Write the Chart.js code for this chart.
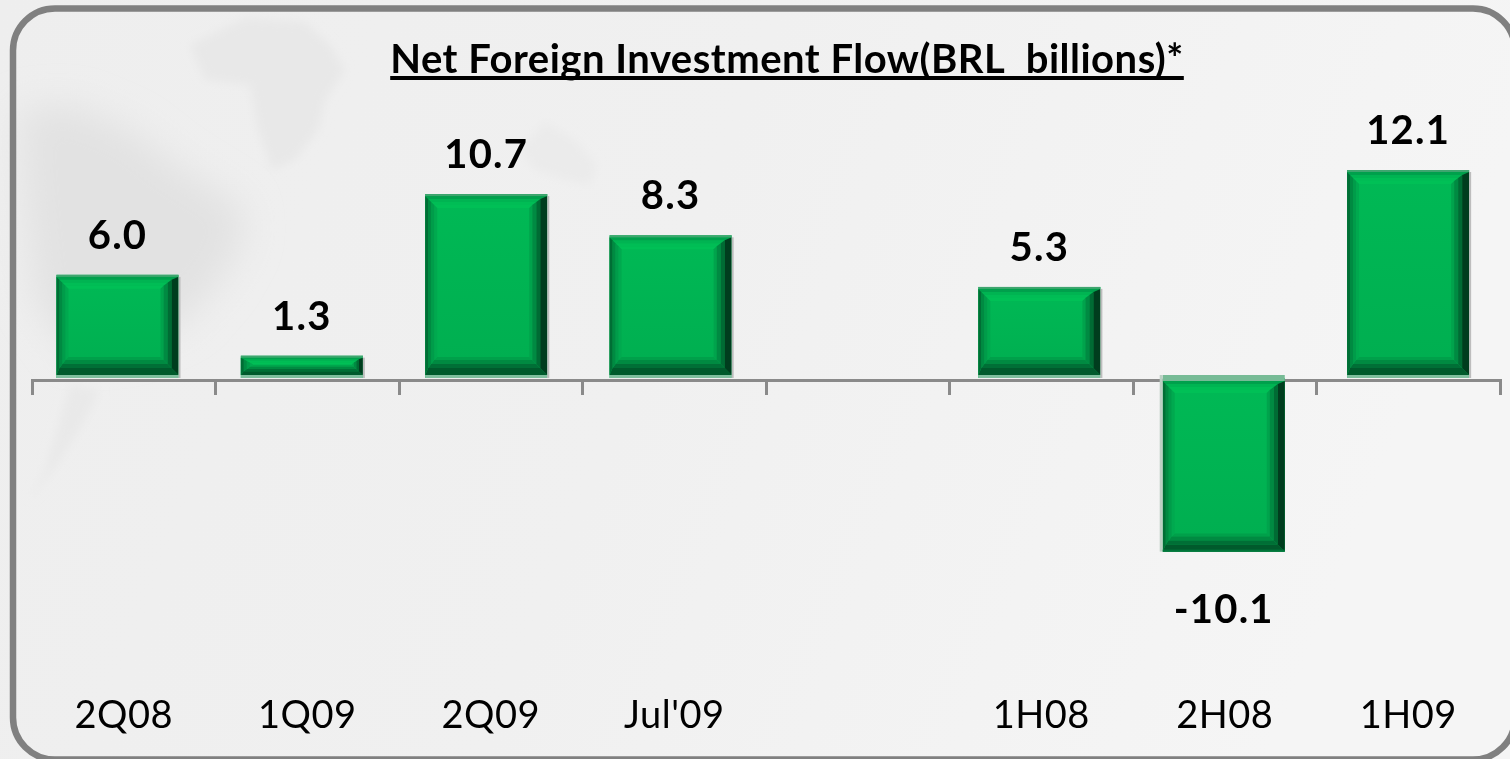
<!DOCTYPE html>
<html>
<head>
<meta charset="utf-8">
<title>Net Foreign Investment Flow</title>
<script src="https://cdn.jsdelivr.net/npm/chart.js@4"></script>
<style>
  html, body { margin: 0; padding: 0; width: 1510px; height: 759px; overflow: hidden; background: #ececec; }
  #backdrop, #chart { position: absolute; left: 0; top: 0; }
</style>
</head>
<body>
<svg id="backdrop" width="1510" height="759" viewBox="0 0 1510 759">
  <defs>
    <linearGradient id="wash" x1="0" y1="0" x2="1" y2="0.2">
      <stop offset="0" stop-color="#eeeeee"/>
      <stop offset="0.5" stop-color="#f0f0f0"/>
      <stop offset="1" stop-color="#f5f5f5"/>
    </linearGradient>
    <filter id="soft" x="-30%" y="-30%" width="160%" height="160%"><feGaussianBlur stdDeviation="18"/></filter>
    <filter id="softer" x="-20%" y="-20%" width="140%" height="140%"><feGaussianBlur stdDeviation="5"/></filter>
  </defs>
  <rect width="1510" height="759" fill="url(#wash)"/>
  <!-- faint world map behind the plot -->
  <g filter="url(#soft)">
    <path d="M20 110 L70 105 L130 130 L175 165 L240 205 L245 235 L220 280 L185 320 L130 345 L70 350 L35 300 L25 200 Z" fill="#e2e2e2"/>
  </g>
  <g filter="url(#softer)">
    <path d="M190 45 L245 18 L305 22 L330 45 L345 70 L325 100 L318 130 L295 160 L272 170 L258 130 L250 85 L205 80 Z" fill="#e8e8e8"/>
    <path d="M520 150 L545 122 L575 140 L597 165 L590 185 L565 180 L535 170 Z" fill="#ebebeb"/>
    <path d="M70 385 L60 420 L45 470 L30 500 L60 460 L85 420 L100 390 Z" fill="#e9e9e9"/>
  </g>
  <rect x="13" y="8.5" width="1502" height="751" rx="42" ry="42" fill="none" stroke="#808080" stroke-width="6.5"/>
</svg>
<canvas id="chart" width="1510" height="759"></canvas>
<script>
const categories = ["2Q08", "1Q09", "2Q09", "Jul'09", "", "1H08", "2H08", "1H09"];
const flowValues = [6.0, 1.3, 10.7, 8.3, null, 5.3, -10.1, 12.1];
const chartTitle = "Net Foreign Investment Flow(BRL  billions)*";

const FONT = "Lato, Carlito, sans-serif";
const TITLE_FONT = "bold 40px " + FONT;
const AXIS_GREY = "#8a8a8a";

// Stepped shading for the four bevelled sides, outermost step first.
const BEVEL = {
  left:   ["#006e35", "#008a42", "#009c4a", "#00a94f"],
  right:  ["#003d1e", "#006b34", "#008a42", "#00a34c"],
  top:    ["#00a04c", "#00b452", "#00bd55", "#00c056"],
  bottom: ["#005a2c", "#006f36", "#008a41", "#00a04a"]
};
// Cumulative inset of each step from the bar edge.
const INSET = {
  left:   [3, 6, 9, 12],
  right:  [7, 11, 15, 18],
  top:    [3, 6, 9, 12],
  bottom: [7, 11, 15, 18]
};

function fillQuad(ctx, pts, color) {
  ctx.fillStyle = color;
  ctx.beginPath();
  ctx.moveTo(pts[0], pts[1]);
  ctx.lineTo(pts[2], pts[3]);
  ctx.lineTo(pts[4], pts[5]);
  ctx.lineTo(pts[6], pts[7]);
  ctx.closePath();
  ctx.fill();
}

// Paints the bevel over each bar, using the geometry the bar element already has.
const bevelBars = {
  id: "bevelBars",
  afterDatasetsDraw(chart) {
    const ctx = chart.ctx;
    chart.getDatasetMeta(0).data.forEach((bar, i) => {
      if (flowValues[i] === null) return;
      const { x, y, base, width } = bar.getProps(["x", "y", "base", "width"], true);
      const L = x - width / 2, R = x + width / 2;
      const negative = flowValues[i] < 0;
      const edge = 3;
      const T = negative ? base + 3 : y + 2;
      const B = negative ? y : base - edge;
      const k = Math.min(1, (B - T) / 32);

      ctx.save();
      const g = ctx.createLinearGradient(0, T, 0, B);
      g.addColorStop(0, "#00b955");
      g.addColorStop(1, "#00ae50");
      ctx.fillStyle = g;
      ctx.fillRect(L, T, width, B - T);

      for (let s = 3; s >= 0; s--) {
        const prev = (side) => (s === 0 ? 0 : INSET[side][s - 1]);
        const lo = L + prev("left"), ro = R - prev("right") * (k < 1 ? 0.6 : 1);
        const to = T + prev("top") * k, bo = B - prev("bottom") * k;
        const li = L + INSET.left[s], ri = R - INSET.right[s] * (k < 1 ? 0.6 : 1);
        const ti = T + INSET.top[s] * k, bi = B - INSET.bottom[s] * k;
        fillQuad(ctx, [lo, to, ro, to, ri, ti, li, ti], BEVEL.top[s]);
        fillQuad(ctx, [lo, bo, ro, bo, ri, bi, li, bi], BEVEL.bottom[s]);
        fillQuad(ctx, [lo, to, li, ti, li, bi, lo, bo], BEVEL.left[s]);
        fillQuad(ctx, [ro, to, ri, ti, ri, bi, ro, bo], BEVEL.right[s]);
      }

      // Soft translucent rim around the bar
      if (negative) {
        ctx.fillStyle = "#77bb96";
        ctx.fillRect(L, base - 3, width, 6);
        ctx.fillStyle = "#bcd0c4";
        ctx.fillRect(L - 3, base - 3, 3, y - base + 3);
        ctx.fillStyle = "#00753a";
        ctx.fillRect(L, y - 2, width, 2);
      } else {
        ctx.fillStyle = "#3fa56f";
        ctx.fillRect(L, y, width, 2);
        ctx.fillStyle = "#7fbf9e";
        ctx.fillRect(L, base - edge, width, edge);
        ctx.fillStyle = "#bdbdbd";
        ctx.fillRect(R, y + 2, 2, base - y - 2);
      }
      ctx.restore();
    });
  }
};

// Value labels above positive bars and below negative ones.
const valueLabels = {
  id: "valueLabels",
  afterDatasetsDraw(chart) {
    const ctx = chart.ctx;
    chart.getDatasetMeta(0).data.forEach((bar, i) => {
      const v = flowValues[i];
      if (v === null) return;
      ctx.save();
      ctx.font = "bold 40px " + FONT;
      ctx.letterSpacing = "1.2px";
      ctx.fillStyle = "#000000";
      ctx.textAlign = "center";
      ctx.textBaseline = "middle";
      ctx.fillText(v.toFixed(1), bar.x, v < 0 ? bar.y + 58 : bar.y - 39);
      ctx.restore();
    });
  }
};

// Slight tracking on all chart text, and an underline for the heading.
const textTweaks = {
  id: "textTweaks",
  beforeDraw(chart) {
    chart.ctx.letterSpacing = "0.5px";
  },
  afterDraw(chart) {
    const ctx = chart.ctx;
    const box = chart.titleBlock;
    const cx = (box.left + box.right) / 2;
    ctx.save();
    ctx.font = TITLE_FONT;
    const w = ctx.measureText(chartTitle).width;
    ctx.fillStyle = "#000000";
    ctx.fillRect(cx - w / 2, 76, w, 4);
    ctx.restore();
  }
};

// The bars sit on their own evenly spread category scale, slightly wider than the axis line;
// the heading is centred a little to the right of the plot.
const layoutTweaks = {
  id: "layoutTweaks",
  afterLayout(chart) {
    const s = chart.scales.xBars;
    s.left = 25.3;
    s.right = 1500.3;
    s.width = s.right - s.left;
    s.configure();
    chart.titleBlock.left = 74;
    chart.titleBlock.right = 1500;
  }
};

new Chart(document.getElementById("chart"), {
  type: "bar",
  data: {
    labels: categories,
    datasets: [{
      data: flowValues,
      xAxisID: "xBars",
      backgroundColor: "#00b050",
      borderWidth: 0,
      barPercentage: 0.662,
      categoryPercentage: 1
    }]
  },
  plugins: [layoutTweaks, bevelBars, valueLabels, textTweaks],
  options: {
    responsive: false,
    animation: false,
    layout: { padding: { left: 32, right: 10, top: 0, bottom: 23.15 } },
    plugins: {
      legend: { display: false },
      tooltip: { enabled: false },
      title: {
        display: true,
        text: chartTitle,
        color: "#000000",
        font: { family: FONT, size: 40, weight: "bold", lineHeight: 1.2 },
        padding: { top: 36, bottom: 36.15 }
      }
    },
    scales: {
      y: { display: false, min: -15, max: 15 },
      xBars: {
        type: "category",
        axis: "x",
        display: false,
        offset: true,
        labels: categories
      },
      x: {
        type: "category",
        position: "bottom",
        offset: true,
        labels: categories,
        border: { display: false },
        grid: { display: false },
        afterFit(scale) { scale.height = 100; },
        ticks: {
          color: "#000000",
          padding: 49,
          autoSkip: false,
          maxRotation: 0,
          font: { family: FONT, size: 38, lineHeight: 1.2 }
        }
      },
      xLine: {
        type: "category",
        axis: "x",
        position: { y: -0.12 },
        offset: true,
        labels: categories,
        z: 1,
        afterFit(scale) { scale.height = 0; },
        border: { display: true, color: AXIS_GREY, width: 3 },
        grid: {
          offset: true,
          color: AXIS_GREY,
          lineWidth: 3,
          drawOnChartArea: false,
          drawTicks: true,
          tickLength: 13
        },
        ticks: { display: false, autoSkip: false }
      }
    }
  }
});
</script>
</body>
</html>
